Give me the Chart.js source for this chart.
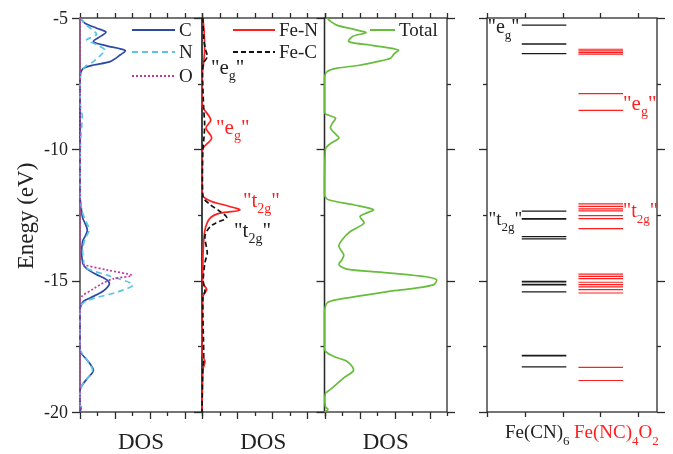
<!DOCTYPE html>
<html><head><meta charset="utf-8">
<script src="https://cdn.jsdelivr.net/npm/chart.js@4.4.1/dist/chart.umd.min.js"></script>
<style>
html,body{margin:0;padding:0;background:#fff;}
#wrap{position:relative;width:673px;height:454px;overflow:hidden;background:#fff;}
#wrap canvas{position:absolute;left:0;top:0;}
</style></head><body>
<div id="wrap">
<canvas id="p1" width="673" height="454"></canvas>
<canvas id="p2" width="673" height="454"></canvas>
<canvas id="p3" width="673" height="454"></canvas>
<canvas id="p4" width="673" height="454"></canvas>
</div>
<script>
// ---------- data: [energy (eV), DOS] pairs ----------
const dosC = [[-5.0,0],[-5.2,0.29],[-5.39,0.96],[-5.54,1.49],[-5.71,1.15],[-5.9,0.77],[-6.06,1.53],[-6.24,2.59],[-6.41,2.3],[-6.66,1.72],[-6.79,0.77],[-6.91,0.19],[-7.05,0.06],[-7.2,0],[-11.8,0],[-12.17,0.06],[-12.6,0.15],[-13.06,0.42],[-13.3,0.3],[-13.5,0.15],[-14.0,0.1],[-14.4,0.2],[-14.6,0.5],[-14.77,0.96],[-14.95,1.5],[-15.11,1.69],[-15.3,1.5],[-15.47,1.15],[-15.65,0.6],[-15.79,0.19],[-16.0,0.03],[-16.2,0],[-17.6,0],[-17.75,0.05],[-18.1,0.5],[-18.42,0.77],[-18.7,0.45],[-19.0,0.1],[-19.2,0],[-19.7,0],[-19.85,0.06],[-20.0,0]];
const dosN = [[-5.0,0],[-5.2,0.25],[-5.45,0.7],[-5.62,0.96],[-5.75,0.6],[-5.84,0.38],[-6.0,0.9],[-6.22,1.44],[-6.4,1.2],[-6.66,0.77],[-6.85,0.3],[-7.05,0.1],[-7.3,0.02],[-8.3,0.02],[-8.7,0.12],[-9.1,0.1],[-9.5,0.05],[-10.0,0.02],[-11.8,0.02],[-12.3,0.1],[-12.68,0.29],[-13.06,0.53],[-13.4,0.3],[-13.8,0.15],[-14.2,0.2],[-14.5,0.3],[-14.8,1.6],[-15.15,3.03],[-15.4,2.3],[-15.72,0.57],[-15.9,0.1],[-16.2,0],[-17.6,0],[-18.1,0.5],[-18.42,0.72],[-18.7,0.45],[-19.0,0.1],[-19.2,0],[-19.7,0],[-19.9,0.05],[-20.0,0]];
const dosO = [[-5.0,0],[-14.3,0],[-14.39,0.19],[-14.6,1.6],[-14.8,2.97],[-14.93,1.9],[-15.1,1.3],[-15.3,0.8],[-15.6,0.1],[-15.8,0],[-20.0,0]];
const dosFeN = [[-5.0,0.05],[-5.5,0.12],[-6.2,0.15],[-6.8,0.08],[-7.2,0],[-8.3,0],[-8.43,0.07],[-8.88,0.5],[-9.19,0.23],[-9.57,0.55],[-9.95,0.07],[-10.2,0],[-11.6,0],[-11.8,0.07],[-12.0,0.6],[-12.11,1.22],[-12.31,2.17],[-12.43,1.03],[-12.62,0.46],[-13.07,0.17],[-13.82,0.07],[-14.5,0.05],[-15.1,0.05],[-15.34,0.27],[-15.6,0.05],[-17.8,0],[-18.07,0.17],[-18.4,0.05],[-20.0,0]];
const dosFeC = [[-5.0,0.05],[-5.8,0.1],[-6.2,0.2],[-6.47,0.3],[-6.7,0.1],[-7.0,0.03],[-8.5,0.1],[-9.0,0.15],[-9.5,0.12],[-10.0,0.05],[-11.8,0.05],[-12.1,0.46],[-12.35,1.0],[-12.6,1.41],[-12.8,0.8],[-12.95,0.46],[-13.3,0.17],[-13.95,0.3],[-14.3,0.17],[-15.0,0.07],[-15.4,0.17],[-15.6,0.05],[-18.0,0.1],[-18.3,0.05],[-20.0,0]];
const dosTotal = [[-5.0,0.15],[-5.1,0.3],[-5.27,0.7],[-5.45,1.8],[-5.56,2.37],[-5.7,1.6],[-5.9,1.39],[-6.05,2.8],[-6.22,4.22],[-6.35,4.0],[-6.53,3.77],[-6.66,3.01],[-6.8,2.0],[-6.91,0.73],[-7.04,0.15],[-7.3,0],[-8.6,0],[-8.81,0.63],[-9.0,0.45],[-9.19,0.34],[-9.4,0.6],[-9.57,0.82],[-9.8,0.3],[-10.0,0.05],[-11.73,0],[-11.92,0.23],[-12.11,1.66],[-12.3,2.8],[-12.45,2.3],[-12.56,2.03],[-12.81,2.26],[-13.12,1.49],[-13.44,1.01],[-13.69,0.82],[-14.01,1.1],[-14.2,1.0],[-14.39,0.82],[-14.56,1.28],[-14.71,3.77],[-14.85,5.8],[-14.96,6.4],[-15.15,6.25],[-15.3,5.0],[-15.4,3.77],[-15.72,0.73],[-15.85,0.15],[-16.2,0],[-17.62,0],[-17.88,0.51],[-18.07,1.28],[-18.41,1.66],[-18.7,1.1],[-19.14,0.34],[-19.3,0.05],[-19.8,0.05],[-19.9,0.2],[-20.0,0]];

// energy levels (eV)
const levelsFeCN6 = [-5.27,-5.98,-6.0,-6.36,-12.35,-12.64,-12.66,-13.32,-13.41,-15.03,-15.05,-15.14,-15.16,-15.43,-17.84,-17.86,-18.28];
const levelsFeNC4O2 = [-6.19,-6.25,-6.32,-6.38,-7.88,-8.52,-12.08,-12.17,-12.27,-12.34,-12.52,-12.64,-13.02,-14.75,-14.84,-14.92,-15.06,-15.15,-15.24,-15.34,-15.47,-18.30,-18.80];

// axes
const energyRange = [-20, -5];
const energyTicks = [-5, -7.5, -10, -12.5, -15, -17.5, -20];
const energyTickLabels = ['-5', '-10', '-15', '-20'];
const dosRange = [0, 7];
const levelRange = [0, 4.5];

// texts
const yTitle = 'Enegy (eV)';
const xTitle = 'DOS';
const seriesNames = ['C', 'N', 'O', 'Fe-N', 'Fe-C', 'Total'];
const levelNames = [[['Fe(CN)',0],['6',1]], [['Fe(NC)',0],['4',1],['O',0],['2',1]]];
const annotPanel2 = [
  {parts:[['"e',0],['g',1],['"',0]], x:0.51, e:-7.13, color:'#222', size:21},
  {parts:[['"e',0],['g',1],['"',0]], x:0.8, e:-9.4, color:'#ff1f1f', size:21},
  {parts:[['"t',0],['2g',1],['"',0]], x:2.34, e:-12.19, color:'#ff1f1f', size:21},
  {parts:[['"t',0],['2g',1],['"',0]], x:1.83, e:-13.34, color:'#222', size:21}
];
const annotPanel4 = [
  {parts:[['"e',0],['g',1],['"',0]], x:0.02, e:-5.57, color:'#222', size:20},
  {parts:[['"e',0],['g',1],['"',0]], x:3.6, e:-8.5, color:'#ff1f1f', size:21},
  {parts:[['"t',0],['2g',1],['"',0]], x:0.04, e:-12.88, color:'#222', size:19},
  {parts:[['"t',0],['2g',1],['"',0]], x:3.6, e:-12.58, color:'#ff1f1f', size:20}
];

// ---------- styling ----------
const W = 673, H = 454, TOP = 18, BOTTOM = 412;
const FONT = "'Liberation Serif','Times New Roman',serif";
const AX = '#2b2b2b';
const colC = '#2c49a5', colN = '#5bc3e3', colO = '#c3379f', colFeN = '#ff1f1f', colFeC = '#111111', colTot = '#67bd3c';

function pts(pairs){ return pairs.map(p => ({x:p[1], y:p[0]})); }
function levelPts(levels, x0, x1){
  const out = [];
  levels.forEach(e => { out.push({x:x0,y:e},{x:x1,y:e},{x:x1,y:null}); });
  return out;
}
function curve(label, pairs, color, dash){
  return {label, data:pts(pairs), borderColor:color, borderWidth:1.7, borderDash:dash||[], tension:0.3, pointRadius:0, fill:false, clip:4, spanGaps:false};
}

function line(ctx,x1,y1,x2,y2){ ctx.beginPath(); ctx.moveTo(x1,y1); ctx.lineTo(x2,y2); ctx.stroke(); }
function drawRich(ctx, x, y, parts, size, subSize, color, subDrop){
  let cx = x;
  ctx.fillStyle = color; ctx.textBaseline = 'alphabetic'; ctx.textAlign = 'left';
  for (const [t, sub] of parts){
    ctx.font = (sub ? subSize : size) + 'px ' + FONT;
    ctx.fillText(t, cx, sub ? y + subDrop : y);
    cx += ctx.measureText(t).width;
  }
}

const framePlugin = {
  id: 'frame',
  beforeDatasetsDraw(chart, args, o){
    const {ctx, chartArea:a, scales:{x, y}} = chart;
    ctx.save();
    ctx.strokeStyle = AX; ctx.lineWidth = 1.3;
    ctx.strokeRect(a.left, a.top, a.right - a.left, a.bottom - a.top);
    energyTicks.forEach(v => {
      const py = Math.round(y.getPixelForValue(v)) + 0.5;
      const len = (v % 5 === 0) ? 8 : 4;
      if (o.leftTicks) line(ctx, a.left - len, py, a.left, py);
      if (o.rightTicks) line(ctx, a.right, py, a.right + len, py);
    });
    for (let v = x.min; v <= x.max + 1e-9; v += 1){
      const px = Math.round(x.getPixelForValue(v)) + 0.5;
      line(ctx, px, a.top - 5, px, a.top);
      const bl = o.altBottom ? ((Math.round(v) % 2 === 0) ? 7 : 4) : 5;
      line(ctx, px, a.bottom, px, a.bottom + bl);
    }
    ctx.restore();
  },
  afterDraw(chart, args, o){
    const {ctx, chartArea:a, scales:{x, y}} = chart;
    ctx.save();
    if (o.yLabels){
      ctx.font = '18px ' + FONT; ctx.fillStyle = '#222';
      ctx.textAlign = 'right'; ctx.textBaseline = 'middle';
      energyTickLabels.forEach(t => ctx.fillText(t, a.left - 12, y.getPixelForValue(parseFloat(t)) + 1));
      ctx.save();
      ctx.translate(27, (a.top + a.bottom) / 2 + 1);
      ctx.rotate(-Math.PI / 2);
      ctx.font = '23px ' + FONT; ctx.textAlign = 'center'; ctx.textBaseline = 'middle';
      ctx.fillText(yTitle, 0, 0);
      ctx.restore();
    }
    if (o.xTitle){
      ctx.font = '23px ' + FONT; ctx.fillStyle = '#222';
      ctx.textAlign = 'center'; ctx.textBaseline = 'alphabetic';
      ctx.fillText(xTitle, (a.left + a.right) / 2, 449);
    }
    if (o.legend){
      o.legend.forEach((it, i) => {
        const ds = chart.data.datasets[it.ds];
        const ly = o.legendY[i];
        ctx.strokeStyle = ds.borderColor; ctx.lineWidth = 2;
        ctx.setLineDash(ds.borderDash || []);
        line(ctx, o.legendX[0], ly, o.legendX[1], ly);
        ctx.setLineDash([]);
        ctx.font = '19px ' + FONT; ctx.fillStyle = '#222';
        ctx.textAlign = 'left'; ctx.textBaseline = 'middle';
        ctx.fillText(ds.label, o.legendX[1] + 4, ly + 1);
      });
    }
    if (o.annots){
      o.annots.forEach(an => {
        drawRich(ctx, x.getPixelForValue(an.x), y.getPixelForValue(an.e), an.parts, an.size, Math.round(an.size * 0.67), an.color, 6);
      });
    }
    if (o.bottomNames){
      drawRich(ctx, 505, 438, levelNames[0], 19, 13, '#222', 7);
      drawRich(ctx, 574, 438, levelNames[1], 19, 13, colFeN, 7);
    }
    ctx.restore();
  }
};
Chart.register(framePlugin);

function makeChart(id, left, right, xr, datasets, deco){
  return new Chart(document.getElementById(id), {
    type: 'line',
    data: {datasets},
    options: {
      responsive: false, animation: false, devicePixelRatio: 1, events: [],
      layout: {padding: {left: left, right: W - right, top: TOP, bottom: H - BOTTOM}},
      scales: {
        x: {type: 'linear', min: xr[0], max: xr[1], display: false},
        y: {type: 'linear', min: energyRange[0], max: energyRange[1], display: false}
      },
      elements: {point: {radius: 0}},
      plugins: {legend: {display: false}, tooltip: {enabled: false}, frame: deco}
    }
  });
}

makeChart('p1', 80, 202, dosRange, [
  curve(seriesNames[2], dosO, colO, [2, 2]),
  curve(seriesNames[1], dosN, colN, [6, 4]),
  curve(seriesNames[0], dosC, colC)
], {leftTicks: true, altBottom: true, yLabels: true, xTitle: true,
    legend: [{ds: 2}, {ds: 1}, {ds: 0}], legendX: [132, 175], legendY: [30, 52, 76]});

makeChart('p2', 202, 324.5, dosRange, [
  curve(seriesNames[4], dosFeC, colFeC, [5, 3]),
  curve(seriesNames[3], dosFeN, colFeN)
], {leftTicks: true, altBottom: true, xTitle: true,
    legend: [{ds: 1}, {ds: 0}], legendX: [233, 275], legendY: [30, 52], annots: annotPanel2});

makeChart('p3', 324.5, 447, dosRange, [
  curve(seriesNames[5], dosTotal, colTot)
], {leftTicks: true, rightTicks: true, altBottom: true, xTitle: true,
    legend: [{ds: 0}], legendX: [370, 395], legendY: [30]});

makeChart('p4', 487, 657, levelRange, [
  {label: 'Fe(CN)6', data: levelPts(levelsFeCN6, 0.92, 2.1), borderColor: '#1a1a1a', borderWidth: 1.2, pointRadius: 0, spanGaps: false, tension: 0},
  {label: 'Fe(NC)4O2', data: levelPts(levelsFeNC4O2, 2.42, 3.6), borderColor: '#ff1f1f', borderWidth: 1.2, pointRadius: 0, spanGaps: false, tension: 0}
], {leftTicks: true, rightTicks: true, altBottom: false, annots: annotPanel4, bottomNames: true});
</script>
</body></html>
